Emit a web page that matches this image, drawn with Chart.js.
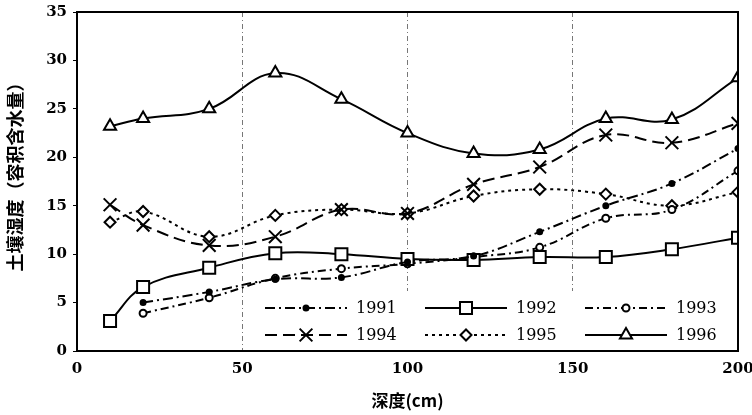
<!DOCTYPE html>
<html>
<head>
<meta charset="utf-8">
<script src="https://cdn.jsdelivr.net/npm/chart.js@4.4.1/dist/chart.umd.min.js"></script>
<style>
  html, body { margin: 0; padding: 0; background: #fff; }
  #wrap { width: 752px; height: 415px; }
</style>
</head>
<body>
<div id="wrap"><canvas id="myChart" width="752" height="415"></canvas></div>
<script>
// depth in cm
const depth = [10, 20, 40, 60, 80, 100, 120, 140, 160, 180, 200];

// soil moisture (volumetric water content) by year
const y1991 = [null, 5.0, 6.1, 7.4, 7.6, 9.2, 9.8, 12.3, 15.0, 17.3, 20.9];
const y1992 = [3.1, 6.6, 8.6, 10.1, 10.0, 9.5, 9.4, 9.7, 9.7, 10.5, 11.7];
const y1993 = [null, 3.9, 5.5, 7.5, 8.5, 9.0, 9.7, 10.7, 13.7, 14.6, 18.6];
const y1994 = [15.1, 13.0, 10.9, 11.8, 14.6, 14.2, 17.2, 19.0, 22.3, 21.5, 23.5];
const y1995 = [13.3, 14.4, 11.8, 14.0, 14.6, 14.2, 16.0, 16.7, 16.2, 15.0, 16.4];
const y1996 = [23.2, 24.0, 25.0, 28.7, 26.0, 22.5, 20.4, 20.8, 24.0, 23.9, 28.2];

const yearLabels = ['1991', '1992', '1993', '1994', '1995', '1996'];
const xTicks = [0, 50, 100, 150, 200];
const yTicks = [0, 5, 10, 15, 20, 25, 30, 35];

const serif = '"DejaVu Serif", "Liberation Serif", serif';
const cjk = '"Noto Sans CJK SC", sans-serif';

function pts(vals) {
    return depth.map((d, i) => ({ x: d, y: vals[i] })).filter(p => p.y !== null);
}

function series(label, vals, dash, style, radius, fill) {
    return {
        label: label,
        data: pts(vals),
        borderColor: '#000',
        borderWidth: 2,
        borderDash: dash,
        tension: 0.4,
        pointStyle: style,
        pointRadius: radius,
        pointBorderWidth: 2,
        pointBorderColor: '#000',
        pointBackgroundColor: fill,
        fill: false
    };
}

const data = {
    datasets: [
        series(yearLabels[0], y1991, [10, 4, 2, 4], 'circle', 2.5, '#000'),
        series(yearLabels[1], y1992, [], 'rect', 8.5, '#fff'),
        series(yearLabels[2], y1993, [8, 4, 2, 4], 'circle', 3.5, '#fff'),
        series(yearLabels[3], y1994, [12, 6], 'crossRot', 9, '#fff'),
        series(yearLabels[4], y1995, [3, 4], 'rectRot', 5.5, '#fff'),
        series(yearLabels[5], y1996, [], 'triangle', 7, '#fff')
    ]
};

// frame + legend drawn inside the plot area
const framePlugin = {
    id: 'frame',
    beforeDatasetsDraw(chart) {
        const a = chart.chartArea;
        const ctx = chart.ctx;
        ctx.save();
        ctx.fillStyle = '#fff';
        ctx.fillRect(a.left + 180, a.bottom - 60, a.right - a.left - 181, 59);
        ctx.restore();
    },
    afterDraw(chart) {
        const a = chart.chartArea;
        const ctx = chart.ctx;
        ctx.save();
        ctx.strokeStyle = '#000';
        ctx.lineWidth = 2;
        ctx.strokeRect(a.left, a.top, a.right - a.left, a.bottom - a.top);

        // legend
        const colX = [a.left + 188, a.left + 348, a.left + 508];
        const rowY = [a.bottom - 43, a.bottom - 16];
        const sampleW = 82;
        chart.data.datasets.forEach((ds, i) => {
            const x0 = colX[i % 3];
            const y0 = rowY[Math.floor(i / 3)];
            ctx.strokeStyle = '#000';
            ctx.lineWidth = 2;
            ctx.setLineDash(ds.borderDash);
            ctx.beginPath();
            ctx.moveTo(x0, y0);
            ctx.lineTo(x0 + sampleW, y0);
            ctx.stroke();
            ctx.setLineDash([]);
            ctx.fillStyle = ds.pointBackgroundColor;
            ctx.lineWidth = 2;
            Chart.helpers.drawPoint(ctx, {
                pointStyle: ds.pointStyle,
                radius: ds.pointRadius,
                rotation: 0,
                borderWidth: 2
            }, x0 + sampleW / 2, y0);
            ctx.fillStyle = '#000';
            ctx.font = '16px ' + serif;
            ctx.textBaseline = 'middle';
            ctx.textAlign = 'left';
            ctx.fillText(ds.label, x0 + sampleW + 9, y0 + 1);
        });
        ctx.restore();
    }
};

const config = {
    type: 'line',
    data: data,
    options: {
        responsive: false,
        animation: false,
        layout: { padding: { top: 12, right: 14, left: 0, bottom: 0 } },
        plugins: {
            legend: { display: false },
            tooltip: { enabled: false }
        },
        scales: {
            x: {
                type: 'linear',
                min: 0,
                max: 200,
                afterBuildTicks: s => { s.ticks = xTicks.map(v => ({ value: v })); },
                afterFit: s => { s.height = 64; s.paddingLeft = 0; s.paddingRight = 0; },
                border: { display: false, dash: [5, 3, 1, 3] },
                grid: {
                    drawOnChartArea: true,
                    drawTicks: false,
                    color: ctx => (ctx.tick && (ctx.tick.value === 0 || ctx.tick.value === 200)) ? 'rgba(0,0,0,0)' : '#777',
                    lineWidth: 1
                },
                ticks: {
                    color: '#000',
                    padding: 9,
                    maxRotation: 0,
                    font: { family: serif, size: 15, weight: 'bold' }
                },
                title: {
                    display: true,
                    text: '深度(cm)',
                    color: '#000',
                    padding: { top: 12 },
                    font: { family: cjk, size: 17, weight: 'bold' }
                }
            },
            y: {
                min: 0,
                max: 35,
                afterBuildTicks: s => { s.ticks = yTicks.map(v => ({ value: v })); },
                afterFit: s => { s.width = 77; s.paddingTop = 0; s.paddingBottom = 0; },
                border: { display: false },
                grid: {
                    drawOnChartArea: false,
                    drawTicks: true,
                    tickLength: 4,
                    color: '#000'
                },
                ticks: {
                    color: '#000',
                    padding: 6,
                    font: { family: serif, size: 15, weight: 'bold' }
                },
                title: {
                    display: true,
                    text: '\u3000土壤湿度（容积含水量）',
                    color: '#000',
                    padding: { bottom: 2 },
                    font: { family: cjk, size: 18, weight: 'bold' }
                }
            }
        }
    },
    plugins: [framePlugin]
};

// build chart
const myChart = new Chart(
    document.getElementById('myChart'),
    config
);
</script>
</body>
</html>
